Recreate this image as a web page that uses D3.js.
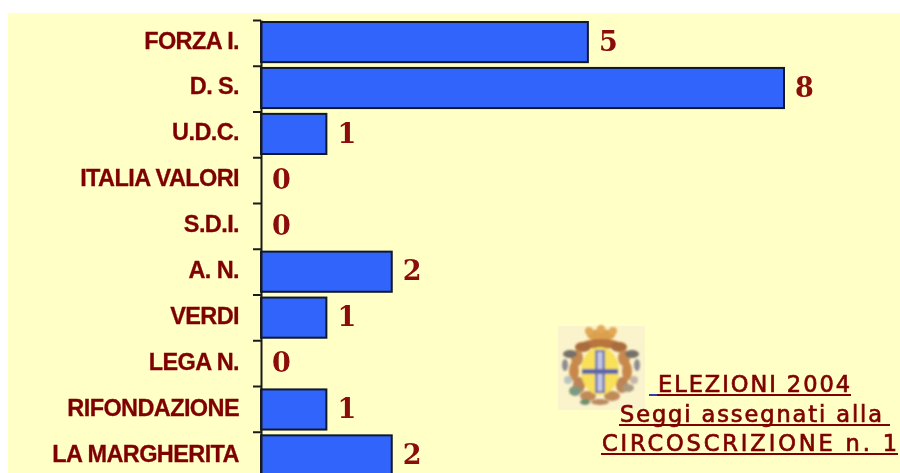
<!DOCTYPE html>
<html>
<head>
<meta charset="utf-8">
<script src="https://cdn.jsdelivr.net/npm/d3@7"></script>
<style>
  html, body { margin: 0; padding: 0; background: #fff; overflow: hidden; }
  svg { display: block; }
</style>
</head>
<body>
<div id="chart"></div>
<script>
// Chart data
const parties = ["FORZA I.", "D. S.", "U.D.C.", "ITALIA VALORI", "S.D.I.", "A. N.", "VERDI", "LEGA N.", "RIFONDAZIONE", "LA MARGHERITA"];
const seats = [5, 8, 1, 0, 0, 2, 1, 0, 1, 2];
const titleLines = ["ELEZIONI 2004", "Seggi assegnati alla", "CIRCOSCRIZIONE n. 1"];

const width = 900;
const height = 473;
const maroon = "#7f0606";

const svg = d3.select("#chart")
  .append("svg")
  .attr("width", width)
  .attr("height", height);

const defs = svg.append("defs");
defs.append("filter").attr("id", "soft")
  .append("feGaussianBlur").attr("stdDeviation", 0.4);
defs.append("filter").attr("id", "softer")
  .append("feGaussianBlur").attr("stdDeviation", 0.9);

// Panel background, the page stays white on top and left
svg.append("rect")
  .attr("x", 8).attr("y", 13)
  .attr("width", width - 8).attr("height", height - 13)
  .attr("fill", "#ffffc6");

// Scales
const xScale = d3.scaleLinear().domain([0, 8]).range([261, 784]);
const yScale = d3.scaleBand().domain(parties).range([20, 477.5]).paddingInner(0.126).paddingOuter(0.044);
const tickScale = d3.scaleLinear().domain([0, parties.length]).range([20, 477.5]);

// Bars
svg.append("g")
  .selectAll("rect")
  .data(parties)
  .enter()
  .append("rect")
  .attr("x", xScale(0))
  .attr("y", d => yScale(d))
  .attr("width", (d, i) => xScale(seats[i]) - xScale(0))
  .attr("height", yScale.bandwidth())
  .attr("fill", "#3164fb")
  .attr("stroke", "#10182c")
  .attr("stroke-width", 2)
  .attr("display", (d, i) => seats[i] > 0 ? null : "none");

// Axis, ticks fall between the categories
const yAxis = d3.axisLeft(tickScale)
  .tickValues(d3.range(parties.length + 1))
  .tickFormat("")
  .tickSizeInner(8)
  .tickSizeOuter(0);

const axisG = svg.append("g")
  .attr("transform", "translate(" + xScale(0) + ",0)")
  .call(yAxis);
axisG.selectAll("path, line").attr("stroke", "#1a1a1a").attr("stroke-width", 2);

// Category labels
svg.append("g")
  .attr("filter", "url(#soft)")
  .selectAll("text")
  .data(parties)
  .enter()
  .append("text")
  .attr("x", 239)
  .attr("y", d => yScale(d) + yScale.bandwidth() / 2 - 2)
  .attr("dy", "0.36em")
  .attr("text-anchor", "end")
  .attr("font-family", "'Liberation Sans', sans-serif")
  .attr("font-weight", "bold")
  .attr("font-size", 23.5)
  .attr("letter-spacing", -0.6)
  .attr("stroke", maroon)
  .attr("stroke-width", 0.3)
  .attr("fill", maroon)
  .text(d => d);

// Value labels
svg.append("g")
  .attr("filter", "url(#soft)")
  .selectAll("text")
  .data(seats)
  .enter()
  .append("text")
  .attr("x", d => xScale(d) + 11)
  .attr("y", (d, i) => yScale(parties[i]) + yScale.bandwidth() / 2 - 1)
  .attr("dy", "0.36em")
  .attr("font-family", "'DejaVu Serif', serif")
  .attr("font-weight", "bold")
  .attr("font-size", 27)
  .attr("fill", "#8a0808")
  .text(d => d);

// Emblem, a small blurred coat of arms
const emblem = svg.append("g");
emblem.append("rect")
  .attr("x", 558).attr("y", 326)
  .attr("width", 87).attr("height", 84)
  .attr("fill", "#fbf3cc");
const crest = emblem.append("g").attr("filter", "url(#softer)");

// wreath around the shield: cx, cy, rx, ry, colour
const crestBlobs = [
  [601, 335, 14, 6, "#dca04e"], [589, 331, 4, 4, "#e0a858"], [601, 329, 4, 4, "#e0a858"], [613, 331, 4, 4, "#e0a858"],
  [601, 344, 19, 5, "#b8743c"], [583, 347, 8, 5, "#a96c3c"], [619, 347, 8, 5, "#a96c3c"],
  [577, 358, 6, 8, "#c68a50"], [624, 358, 6, 8, "#c68a50"], [574, 371, 5, 10, "#c8884a"], [627, 371, 5, 10, "#c8884a"],
  [579, 385, 6, 8, "#bd8454"], [622, 385, 6, 8, "#bd8454"], [588, 396, 8, 5, "#c08a58"], [612, 396, 8, 5, "#c08a58"],
  [600, 402, 9, 3, "#b98a60"], [570, 354, 7, 4, "#767068"], [632, 354, 7, 4, "#767068"], [565, 365, 3, 6, "#8d8c92"],
  [637, 365, 3, 6, "#8d8c92"], [575, 391, 6, 5, "#7d9a80"], [585, 402, 5, 3, "#6f9070"], [628, 388, 6, 4, "#a89a80"],
  [568, 380, 4, 4, "#b9c3c0"], [634, 380, 4, 4, "#c3b6a8"]
];
crest.selectAll("ellipse.blob")
  .data(crestBlobs)
  .enter()
  .append("ellipse")
  .attr("class", "blob")
  .attr("cx", d => d[0]).attr("cy", d => d[1])
  .attr("rx", d => d[2]).attr("ry", d => d[3])
  .attr("fill", d => d[4]);
crest.append("ellipse")
  .attr("cx", 600).attr("cy", 371).attr("rx", 19).attr("ry", 24)
  .attr("fill", "#f8e058");
crest.append("rect")
  .attr("x", 595).attr("y", 350).attr("width", 10).attr("height", 43)
  .attr("fill", "#6f74ae");
crest.append("rect")
  .attr("x", 597.5).attr("y", 352).attr("width", 5).attr("height", 39)
  .attr("fill", "#c4c8e6");
crest.append("rect")
  .attr("x", 582).attr("y", 369).attr("width", 36).attr("height", 5)
  .attr("fill", "#5f66a6");

// Title block, underlined like a link
const titleX = [658, 620, 602];
const titleY = [392, 422, 451];
const titleEnd = [851, 890, 898];
const titleStart = [649, 619, 601];
const titleWidth = [192, 262, 295];

const titleG = svg.append("g").attr("filter", "url(#soft)");
titleG.selectAll("text")
  .data(titleLines)
  .enter()
  .append("text")
  .attr("x", (d, i) => titleX[i])
  .attr("y", (d, i) => titleY[i])
  .attr("font-family", "'DejaVu Sans', sans-serif")
  .attr("font-size", 22.5)
  .attr("textLength", (d, i) => titleWidth[i])
  .attr("lengthAdjust", "spacing")
  .attr("stroke", maroon)
  .attr("stroke-width", 0.7)
  .attr("fill", maroon)
  .text(d => d);
titleG.selectAll("line")
  .data(titleLines)
  .enter()
  .append("line")
  .attr("x1", (d, i) => titleStart[i])
  .attr("x2", (d, i) => titleEnd[i])
  .attr("y1", (d, i) => titleY[i] + 3)
  .attr("y2", (d, i) => titleY[i] + 3)
  .attr("stroke", maroon)
  .attr("stroke-width", 2);
// the leading space of the first line is underlined in blue
titleG.append("line")
  .attr("x1", 649).attr("x2", 657)
  .attr("y1", titleY[0] + 3).attr("y2", titleY[0] + 3)
  .attr("stroke", "#2a3fb0")
  .attr("stroke-width", 2);
</script>
</body>
</html>
